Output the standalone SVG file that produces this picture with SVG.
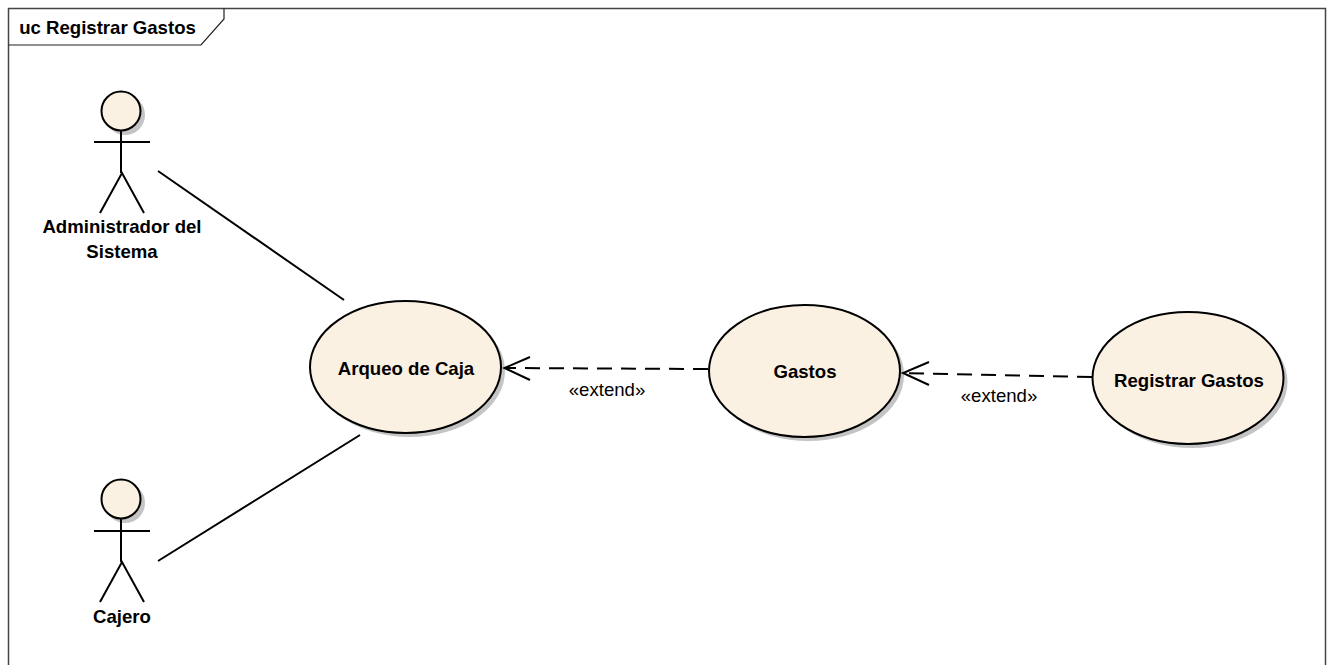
<svg xmlns="http://www.w3.org/2000/svg" width="1330" height="665" viewBox="0 0 1330 665">
<style>
text{font-family:"Liberation Sans",Arial,sans-serif;font-size:18.6px;fill:#000;text-anchor:middle}
.b{font-weight:bold}
.l{fill:none;stroke:#000;stroke-width:2}
.d{fill:none;stroke:#000;stroke-width:2;stroke-dasharray:15 9}
.s{fill:#c4c4c4;stroke:none}
.f{fill:#fbf1e3;stroke:#000;stroke-width:2}
</style>
<rect width="1330" height="665" fill="#fff"/>
<g id="frame">
<path d="M8.5 665V8.5H1325.5V665" fill="none" stroke="#444" stroke-width="1.5"/>
<path d="M8.500 45H201L224 19V8.500" fill="none" stroke="#222" stroke-width="1.2"/>
<text class="b" x="107.500" y="34">uc Registrar Gastos</text>
</g>
<g id="actor-admin">
<circle class="s" cx="125" cy="115" r="20"/>
<circle class="f" cx="121" cy="111" r="19.500"/>
<path class="l" d="M121 131V173M94 142H150M100 213L122 173L144 213"/>
<text class="b" x="122" y="233">Administrador del</text>
<text class="b" x="122" y="258">Sistema</text>
</g>
<g id="actor-cajero">
<circle class="s" cx="125" cy="503" r="20"/>
<circle class="f" cx="121" cy="499" r="19.500"/>
<path class="l" d="M121 519V562M94 531H150M100 602L122 562L144 602"/>
<text class="b" x="122" y="623">Cajero</text>
</g>
<g id="uc-arqueo">
<ellipse class="s" cx="409.500" cy="371" rx="95.500" ry="66"/>
<ellipse class="f" cx="405.500" cy="367" rx="95.500" ry="66"/>
<text class="b" x="406" y="375">Arqueo de Caja</text>
</g>
<g id="uc-gastos">
<ellipse class="s" cx="808.500" cy="375" rx="95.500" ry="66"/>
<ellipse class="f" cx="804.500" cy="371" rx="95.500" ry="66"/>
<text class="b" x="805" y="378">Gastos</text>
</g>
<g id="uc-registrar">
<ellipse class="s" cx="1192" cy="382" rx="95.500" ry="66"/>
<ellipse class="f" cx="1188" cy="378" rx="95.500" ry="66"/>
<text class="b" x="1189" y="387">Registrar Gastos</text>
</g>
<g id="connectors">
<path class="l" d="M158 171L344 300"/>
<path class="l" d="M158 561L360 435"/>
<path class="d" d="M708 369L504 368"/>
<path class="l" d="M530 357L504.500 368L530 380"/>
<path class="d" d="M1092 377L903 373"/>
<path class="l" d="M929 362L903 373L929 385"/>
<text x="607" y="396">«extend»</text>
<text x="999" y="401.500">«extend»</text>
</g>
</svg>
